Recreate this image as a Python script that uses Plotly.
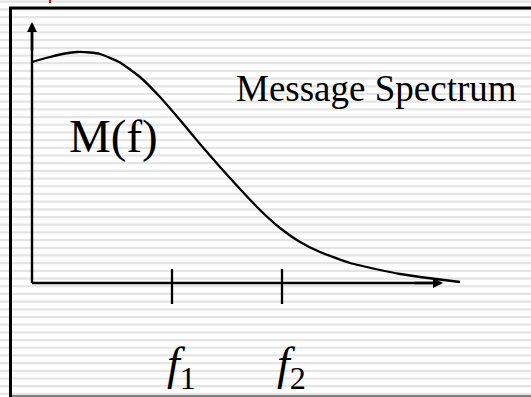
import plotly.graph_objects as go

# ---- data (frequency in arbitrary units, magnitude in arbitrary units) ----
freq = [0.0, 1.8, 3.3, 4.5, 5.8, 6.8, 8.8, 10.8, 12.8, 14.8, 16.8, 18.8, 20.8, 22.8,
        24.8, 26.8, 28.8, 31.8, 34.8, 36.8, 38.8, 42.8]
mag = [22.1, 22.6, 22.95, 23.1, 23.05, 22.9, 22.05, 20.6, 18.6, 16.3, 13.9, 11.6, 9.4, 7.3,
       5.5, 4.1, 3.1, 2.0, 1.3, 0.9, 0.6, 0.1]
tick_freqs = [14.0, 25.0]
tick_labels = ["<i>f</i><sub>1</sub>", "<i>f</i><sub>2</sub>"]
curve_label = "M(f)"
title_label = "Message Spectrum"
x_axis_end = 41.1
y_axis_end = 26.1

W, H = 531, 397
SERIF = "Liberation Serif"

fig = go.Figure()
fig.add_trace(go.Scatter(x=freq, y=mag, mode="lines",
                         line=dict(color="black", width=2.3, shape="spline", smoothing=0.5),
                         hoverinfo="skip", showlegend=False))

shapes = []
# striped background
period = 7.69
i = 0
while True:
    yc = 1.7 + i * period
    if yc > H + 2:
        break
    shapes.append(dict(type="rect", xref="paper", yref="paper", layer="below",
                       x0=0, x1=1, y0=1 - (yc - 1.1) / H, y1=1 - (yc + 1.1) / H,
                       fillcolor="#e4e4e4", line=dict(width=0)))
    i += 1

# frame
shapes.append(dict(type="line", xref="paper", yref="paper", x0=10.5 / W, x1=10.5 / W,
                   y0=1 - 7 / H, y1=0, line=dict(color="black", width=3)))
shapes.append(dict(type="line", xref="paper", yref="paper", x0=9 / W, x1=1,
                   y0=1 - 8 / H, y1=1 - 8 / H, line=dict(color="black", width=3)))
shapes.append(dict(type="line", xref="paper", yref="paper", x0=12 / W, x1=1,
                   y0=1 - 396 / H, y1=1 - 396 / H, line=dict(color="#555555", width=1.5)))
# small red mark at top
shapes.append(dict(type="line", xref="paper", yref="paper", x0=50 / W, x1=50 / W,
                   y0=1, y1=1 - 3 / H, line=dict(color="red", width=2)))

# axis lines
shapes.append(dict(type="line", x0=0, x1=x_axis_end - 0.8, y0=0, y1=0,
                   line=dict(color="black", width=2.4)))
shapes.append(dict(type="line", x0=0, x1=0, y0=0, y1=y_axis_end - 0.8,
                   line=dict(color="black", width=2.4)))
# tick marks
for tf in tick_freqs:
    shapes.append(dict(type="line", x0=tf, x1=tf, y0=1.4, y1=-2.1,
                       line=dict(color="black", width=2.3)))

annotations = []
# arrow heads
annotations.append(dict(x=x_axis_end, y=0, ax=x_axis_end - 3, ay=0, axref="x", ayref="y",
                        xref="x", yref="y", text="", showarrow=True, arrowhead=2,
                        arrowsize=0.8, arrowwidth=2.5, arrowcolor="black", standoff=0))
annotations.append(dict(x=0, y=y_axis_end, ax=0, ay=y_axis_end - 3, axref="x", ayref="y",
                        xref="x", yref="y", text="", showarrow=True, arrowhead=2,
                        arrowsize=0.8, arrowwidth=2.5, arrowcolor="black", standoff=0))
# tick labels
for tf, tl in zip(tick_freqs, tick_labels):
    annotations.append(dict(x=tf, y=-8.4, xref="x", yref="y", text=tl, showarrow=False,
                            xanchor="center", yanchor="middle", xshift=9,
                            font=dict(family=SERIF, size=46, color="black")))
# labels
annotations.append(dict(x=3.5, y=14.7, xref="x", yref="y", text=curve_label, showarrow=False,
                        xanchor="left", yanchor="middle",
                        font=dict(family=SERIF, size=47, color="black")))
annotations.append(dict(x=20.2, y=19.5, xref="x", yref="y", text=title_label, showarrow=False,
                        xanchor="left", yanchor="middle",
                        font=dict(family=SERIF, size=37, color="black")))

fig.update_layout(
    width=W, height=H, margin=dict(l=0, r=0, t=0, b=0),
    paper_bgcolor="white", plot_bgcolor="rgba(0,0,0,0)",
    xaxis=dict(range=[-3.2, 49.9], visible=False, fixedrange=True),
    yaxis=dict(range=[-11.4, 28.3], visible=False, fixedrange=True),
    shapes=shapes, annotations=annotations, showlegend=False,
)
fig.write_html("out.html", config={"displayModeBar": False},
               post_script="document.body.style.margin='0';document.body.style.overflow='hidden';")
